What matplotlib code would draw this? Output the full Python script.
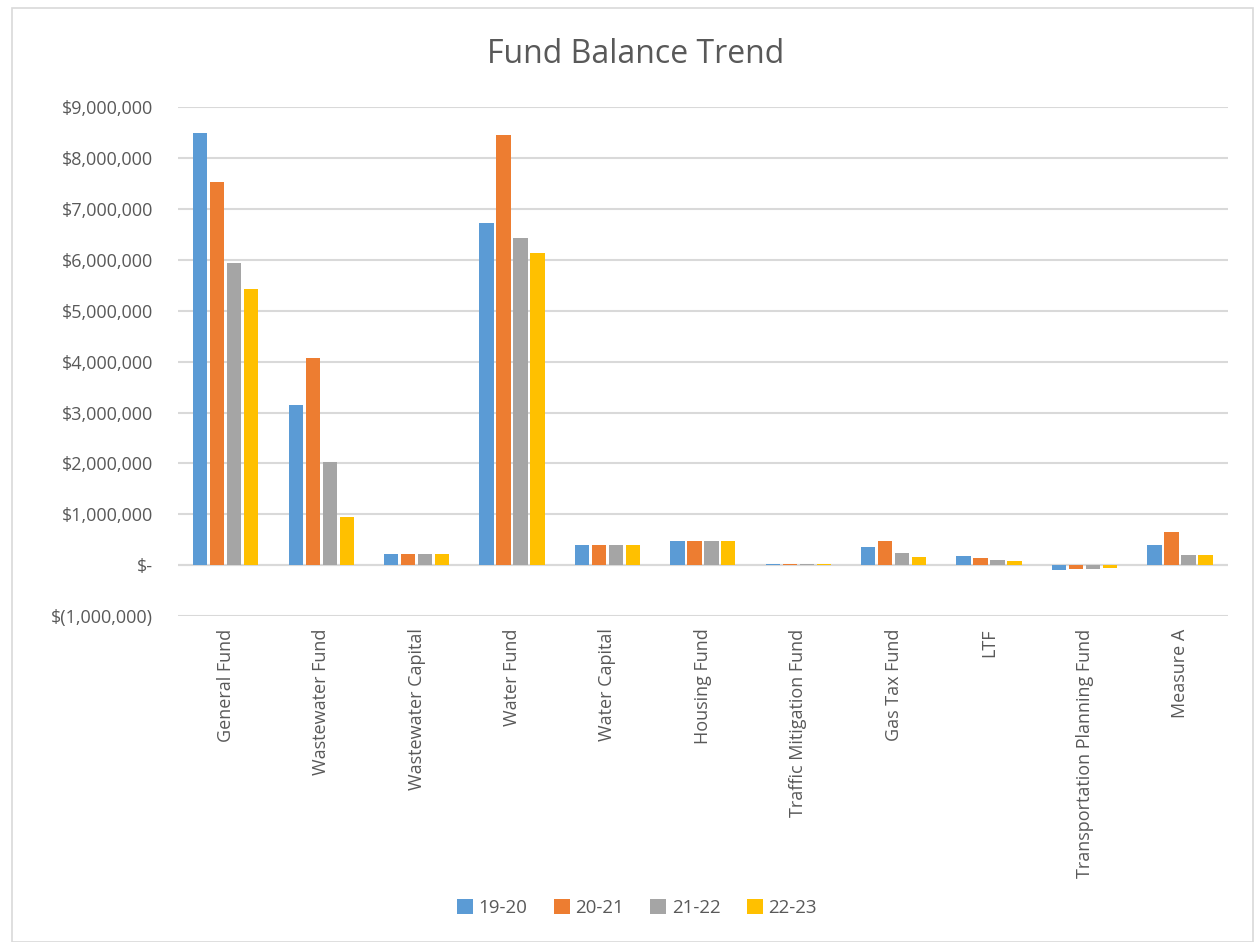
import matplotlib.pyplot as plt
import numpy as np
from matplotlib.patches import Rectangle

categories = ['General Fund', 'Wastewater Fund', 'Wastewater Capital', 'Water Fund',
              'Water Capital', 'Housing Fund', 'Traffic Mitigation Fund', 'Gas Tax Fund',
              'LTF', 'Transportation Planning Fund', 'Measure A']
years = ['19-20', '20-21', '21-22', '22-23']

fy1920 = [8490000, 3150000, 220000, 6720000, 400000, 480000, 30000, 350000, 180000, -100000, 400000]
fy2021 = [7540000, 4080000, 220000, 8450000, 400000, 480000, 30000, 480000, 140000, -80000, 650000]
fy2122 = [5950000, 2030000, 220000, 6430000, 400000, 480000, 30000, 240000, 100000, -80000, 200000]
fy2223 = [5420000, 950000, 220000, 6130000, 400000, 480000, 30000, 160000, 80000, -60000, 200000]

colors = ['#5B9BD5', '#ED7D31', '#A5A5A5', '#FFC000']
txt = '#595959'

plt.rcParams['font.family'] = ['Open Sans', 'DejaVu Sans']

def money(v, pos=None):
    if v == 0:
        return '$-'
    if v < 0:
        return '$({:,.0f})'.format(-v)
    return '${:,.0f}'.format(v)

fig = plt.figure(figsize=(12.54, 9.42), dpi=100)
fig.patches.append(Rectangle((12/1254, 0), 1 - 12/1254 - 0.001, 1 - 8/942, transform=fig.transFigure,
                             fill=False, edgecolor='#D9D9D9', linewidth=1.2))
ax = fig.add_axes([0.142, 0.346, 0.837, 0.54])

x = np.arange(len(categories))
step = 0.178
w = 0.15
for i, (vals, c) in enumerate(zip([fy1920, fy2021, fy2122, fy2223], colors)):
    ax.bar(x + (i - 1.5) * step, vals, width=w, color=c, label=years[i], zorder=3)

ax.set_xlim(-0.5, len(categories) - 0.5)
ax.set_ylim(-1000000, 9000000)
ax.set_yticks(np.arange(-1000000, 9000001, 1000000))
ax.yaxis.set_major_formatter(plt.FuncFormatter(money))
ax.grid(axis='y', color='#D9D9D9', linewidth=1.5, zorder=0)
for s in ax.spines.values():
    s.set_visible(False)
ax.axhline(0, color='#D9D9D9', linewidth=1.5, zorder=1)
ax.set_xticks(x)
ax.set_xticklabels(categories, rotation=90, fontsize=13, color=txt)
ax.tick_params(axis='both', length=0, labelsize=13, labelcolor=txt)
ax.tick_params(axis='x', pad=9)
ax.tick_params(axis='y', pad=18)

fig.text(0.507, 0.942, 'Fund Balance Trend', ha='center', va='center', fontsize=23, color=txt)
fig.legend(loc='center', bbox_to_anchor=(0.508, 0.036), ncol=4, frameon=False, fontsize=13.5,
           labelcolor=txt, handlelength=0.85, handleheight=0.85, handletextpad=0.3, columnspacing=1.4)

plt.savefig('out.png', dpi=100)
